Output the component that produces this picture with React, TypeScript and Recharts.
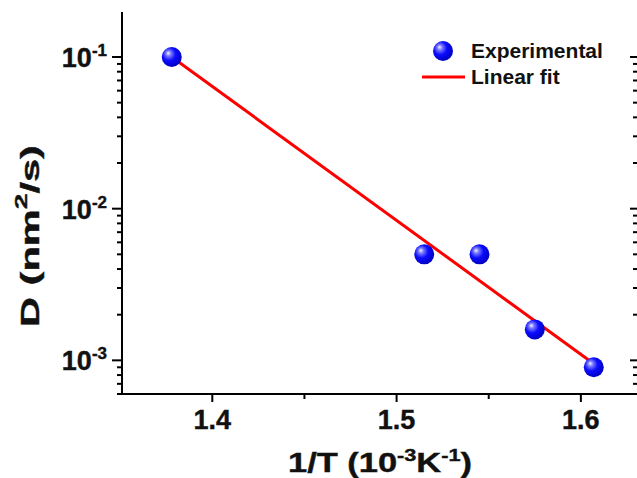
import React from "react";
import { ComposedChart, XAxis, YAxis, Scatter, Line, Legend } from "recharts";

// 1/T in 10^-3 K^-1 and D in nm^2/s
const invT = [1.378, 1.515, 1.545, 1.575, 1.607];
const diffusion = [0.1, 0.005, 0.005, 0.0016, 0.0009];
const fitInvT = [1.378, 1.607];
const fitD = [0.1, 0.00095];

const xMajor = [1.4, 1.5, 1.6];
const xMinor = [1.45, 1.55];
const yMajor = [0.001, 0.01, 0.1];
const yMinor = [
  0.0006, 0.0007, 0.0008, 0.0009,
  0.002, 0.003, 0.004, 0.005, 0.006, 0.007, 0.008, 0.009,
  0.02, 0.03, 0.04, 0.05, 0.06, 0.07, 0.08, 0.09,
];

const points = invT.map((x, i) => ({ x, y: diffusion[i] }));
const fit = fitInvT.map((x, i) => ({ x, y: fitD[i] }));

const FONT = "'Liberation Sans', Arial, sans-serif";
const X_DOMAIN = [1.351, 1.631];
const Y_DOMAIN = [0.0006, 0.198];

const BottomTick = ({ x, y, payload }: any) => {
  const major = xMajor.includes(payload.value);
  return (
    <g>
      <line x1={x} x2={x} y1={y} y2={y + (major ? 8 : 5)} stroke="#000" strokeWidth={2} />
      {major && (
        <text x={x} y={y + 35} textAnchor="middle" fontSize={27} fontWeight="bold" fontFamily={FONT} fill="#111"
          stroke="#111" strokeWidth={0.4}>
          {payload.value.toFixed(1)}
        </text>
      )}
    </g>
  );
};

const TopTick = ({ x, y }: any) => (
  <line x1={x} x2={x} y1={y} y2={y + 8} stroke="#000" strokeWidth={2} />
);

const LeftTick = ({ x, y, payload }: any) => {
  const v = payload.value;
  const major = yMajor.includes(v);
  return (
    <g>
      <line x1={x} x2={x - (major ? 10 : 5)} y1={y} y2={y} stroke="#000" strokeWidth={2} />
      {major && (
        <text x={x - 15} y={y + 10} textAnchor="end" fontSize={27} fontWeight="bold" fontFamily={FONT} fill="#111"
          stroke="#111" strokeWidth={0.4}>
          10
          <tspan fontSize={17} dy={-11}>
            {Math.round(Math.log10(v))}
          </tspan>
        </text>
      )}
    </g>
  );
};

const RightTick = ({ x, y, payload }: any) => {
  const major = yMajor.includes(payload.value);
  return <line x1={x} x2={x - (major ? 8 : 5)} y1={y} y2={y} stroke="#000" strokeWidth={2} />;
};

const Ball = ({ cx, cy }: any) => (
  <g>
    <defs>
      <radialGradient id="ballFill" cx="40%" cy="40%" r="60%" fx="32%" fy="30%">
        <stop offset="0%" stopColor="#f4f4ff" />
        <stop offset="22%" stopColor="#7a7aff" />
        <stop offset="55%" stopColor="#0c0cff" />
        <stop offset="100%" stopColor="#0000c4" />
      </radialGradient>
    </defs>
    <circle cx={cx} cy={cy} r={10} fill="url(#ballFill)" />
  </g>
);

const XTitle = () => (
  <text x={380} y={472} textAnchor="middle" fontSize={27} fontWeight="bold" fontFamily={FONT} fill="#111"
    stroke="#111" strokeWidth={0.4} textLength={184} lengthAdjust="spacingAndGlyphs">
    1/T (10
    <tspan fontSize={17} dy={-11}>-3</tspan>
    <tspan dy={11}>K</tspan>
    <tspan fontSize={17} dy={-11}>-1</tspan>
    <tspan dy={11}>)</tspan>
  </text>
);

const YTitle = () => (
  <text transform="translate(39,236) rotate(-90)" textAnchor="middle" fontSize={25} fontWeight="bold"
    fontFamily={FONT} fill="#111" stroke="#111" strokeWidth={0.4} textLength={182} lengthAdjust="spacingAndGlyphs">
    D (nm
    <tspan fontSize={17} dy={-12}>2</tspan>
    <tspan dy={12}>/s)</tspan>
  </text>
);

const LegendBox = () => (
  <div style={{ fontFamily: FONT, fontWeight: "bold", fontSize: 21, color: "#111" }}>
    <div style={{ display: "flex", alignItems: "center", height: 26, lineHeight: "26px" }}>
      <svg width={48} height={26}>
        <defs>
          <radialGradient id="legBall" cx="40%" cy="40%" r="60%" fx="32%" fy="30%">
            <stop offset="0%" stopColor="#f4f4ff" />
            <stop offset="22%" stopColor="#7a7aff" />
            <stop offset="55%" stopColor="#0c0cff" />
            <stop offset="100%" stopColor="#0000c4" />
          </radialGradient>
        </defs>
        <circle cx={23} cy={13} r={10} fill="url(#legBall)" />
      </svg>
      <span style={{ marginLeft: 3 }}>Experimental</span>
    </div>
    <div style={{ display: "flex", alignItems: "center", height: 26, lineHeight: "26px" }}>
      <svg width={48} height={26}>
        <line x1={2} x2={45} y1={13} y2={13} stroke="#ff0000" strokeWidth={3} />
      </svg>
      <span style={{ marginLeft: 3 }}>Linear fit</span>
    </div>
  </div>
);

export default function App() {
  return (
    <div style={{ position: "absolute", left: 0, top: 0, width: 637, height: 478, overflow: "hidden", background: "#fff" }}>
      <ComposedChart width={640} height={478} margin={{ top: 12, right: 0, bottom: 0, left: 0 }}>
        <XAxis
          xAxisId="b"
          dataKey="x"
          type="number"
          domain={X_DOMAIN}
          allowDataOverflow
          ticks={[...xMajor, ...xMinor]}
          interval={0}
          height={84}
          tickSize={0}
          tickMargin={0}
          tickLine={false}
          tick={<BottomTick />}
          axisLine={{ stroke: "#000", strokeWidth: 2 }}
          label={{ content: () => <XTitle /> }}
        />
        <XAxis
          xAxisId="t"
          dataKey="x"
          type="number"
          orientation="top"
          domain={X_DOMAIN}
          allowDataOverflow
          ticks={xMajor}
          interval={0}
          height={0}
          tickSize={0}
          tickMargin={0}
          tickLine={false}
          tick={<TopTick />}
          axisLine={{ stroke: "#000", strokeWidth: 2 }}
        />
        <YAxis
          yAxisId="l"
          type="number"
          scale="log"
          domain={Y_DOMAIN}
          allowDataOverflow
          ticks={[...yMajor, ...yMinor]}
          interval={0}
          width={122}
          tickSize={0}
          tickMargin={0}
          tickLine={false}
          tick={<LeftTick />}
          axisLine={{ stroke: "#000", strokeWidth: 2 }}
          label={{ content: () => <YTitle /> }}
        />
        <YAxis
          yAxisId="r"
          type="number"
          orientation="right"
          scale="log"
          domain={Y_DOMAIN}
          allowDataOverflow
          ticks={[...yMajor, ...yMinor]}
          interval={0}
          width={2}
          tickSize={0}
          tickMargin={0}
          tickLine={false}
          tick={<RightTick />}
          axisLine={{ stroke: "#000", strokeWidth: 2 }}
        />
        <Legend
          layout="vertical"
          align="center"
          verticalAlign="middle"
          wrapperStyle={{ left: 420, top: 38, width: 200 }}
          content={() => <LegendBox />}
        />
        <Scatter
          name="Experimental"
          data={points}
          dataKey="y"
          xAxisId="b"
          yAxisId="l"
          shape={<Ball />}
          isAnimationActive={false}
        />
        <Line
          name="Linear fit"
          data={fit}
          dataKey="y"
          xAxisId="b"
          yAxisId="l"
          type="linear"
          stroke="#ff0000"
          strokeWidth={3}
          dot={false}
          activeDot={false}
          isAnimationActive={false}
        />
      </ComposedChart>
    </div>
  );
}
